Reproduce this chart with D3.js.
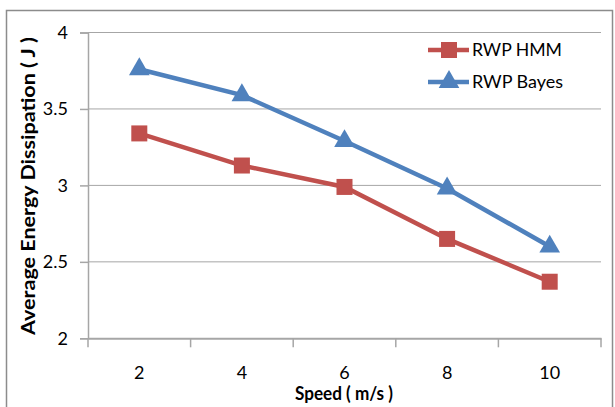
<!DOCTYPE html>
<html><head><meta charset="utf-8">
<script src="https://cdn.jsdelivr.net/npm/d3@7"></script>
<style>
body{margin:0;background:#fff;}
text{font-family:Lato,"Liberation Sans",Arial,sans-serif;fill:#000;}
</style></head>
<body>
<svg id="c" width="615" height="407"></svg>
<script>
const categories = ["2","4","6","8","10"];
const hmm = [3.34, 3.13, 2.99, 2.65, 2.37];
const bayes = [3.76, 3.59, 3.29, 2.98, 2.60];
const yTicks = [2, 2.5, 3, 3.5, 4];
const seriesNames = ["RWP HMM", "RWP Bayes"];

const svg = d3.select("#c");
const m = {l:88, t:32.5, r:601, b:338.3};
svg.append("rect").attr("x",6.5).attr("y",10.5).attr("width",606).attr("height",400)
  .attr("fill","#fff").attr("stroke","#8c8c8c").attr("stroke-width",1.5);

const x = d3.scaleBand().domain(categories).range([m.l, m.r]);
const y = d3.scaleLinear().domain([2,4]).range([m.b, m.t]);

// gridlines
svg.append("g").selectAll("line").data(yTicks.filter(d=>d>2)).join("line")
  .attr("x1",m.l).attr("x2",m.r).attr("y1",d=>y(d)).attr("y2",d=>y(d))
  .attr("stroke","#a6a6a6").attr("stroke-width",1);

// y axis
const ya = svg.append("g").attr("transform",`translate(${m.l},0)`)
  .call(d3.axisLeft(y).tickValues(yTicks).tickSize(8).tickPadding(12).tickFormat(d3.format("")));
ya.select(".domain").attr("stroke","#a6a6a6").attr("stroke-width",1.5);
ya.selectAll(".tick line").attr("stroke","#a6a6a6").attr("stroke-width",1.5);
ya.selectAll("text").attr("font-size",18).attr("font-family","Lato, Liberation Sans, sans-serif").attr("fill","#000");

// x axis
const xa = svg.append("g").attr("transform",`translate(0,${m.b})`)
  .call(d3.axisBottom(x).tickSize(0).tickPadding(28));
xa.select(".domain").attr("stroke","#a6a6a6").attr("stroke-width",2);
xa.selectAll("text").attr("font-size",18).attr("font-family","Lato, Liberation Sans, sans-serif").attr("fill","#000");
// category boundary ticks
const bounds = categories.map(c=>x(c)).concat([m.r]);
svg.append("g").selectAll("line").data(bounds).join("line")
  .attr("x1",d=>d).attr("x2",d=>d).attr("y1",m.b).attr("y2",m.b+9)
  .attr("stroke","#a6a6a6").attr("stroke-width",1.5);

const cx = c => x(c) + x.bandwidth()/2;
const line = d3.line().x((d,i)=>cx(categories[i])).y(d=>y(d));
const red = "#C0504D", blue = "#4F81BD";

svg.append("path").datum(bayes).attr("d",line).attr("fill","none").attr("stroke",blue).attr("stroke-width",4.5);
svg.append("path").datum(hmm).attr("d",line).attr("fill","none").attr("stroke",red).attr("stroke-width",4.5);

const tri = d3.symbol().type(d3.symbolTriangle).size(185);
svg.append("g").selectAll("path").data(bayes).join("path")
  .attr("d",tri).attr("transform",(d,i)=>`translate(${cx(categories[i])},${y(d)})`).attr("fill",blue);
svg.append("g").selectAll("rect").data(hmm).join("rect")
  .attr("x",(d,i)=>cx(categories[i])-8).attr("y",d=>y(d)-8).attr("width",16).attr("height",16).attr("fill",red);

// legend
const lg = svg.append("g");
[[red,"sq",50,56],[blue,"tri",82,88]].forEach(([col,t,ly,by],i)=>{
  lg.append("line").attr("x1",428).attr("x2",469).attr("y1",ly).attr("y2",ly).attr("stroke",col).attr("stroke-width",4.5);
  if(t==="sq") lg.append("rect").attr("x",441).attr("y",ly-8).attr("width",16).attr("height",16).attr("fill",col);
  else lg.append("path").attr("d",tri).attr("transform",`translate(449,${ly})`).attr("fill",col);
  lg.append("text").attr("x",472).attr("y",by).attr("font-size",17)
    .attr("textLength", i===0 ? 90 : 91).attr("lengthAdjust","spacingAndGlyphs").text(seriesNames[i]);
});

// titles
svg.append("text").attr("x",344).attr("y",400).attr("text-anchor","middle")
  .attr("font-size",18).attr("font-weight","bold")
  .attr("textLength",98).attr("lengthAdjust","spacingAndGlyphs").text("Speed ( m/s )");
svg.append("text").attr("transform","translate(35,186) rotate(-90)").attr("text-anchor","middle")
  .attr("font-size",18).attr("font-weight","bold")
  .attr("textLength",298).attr("lengthAdjust","spacingAndGlyphs")
  .text("Average Energy Dissipation ( J )");
</script>
</body></html>
